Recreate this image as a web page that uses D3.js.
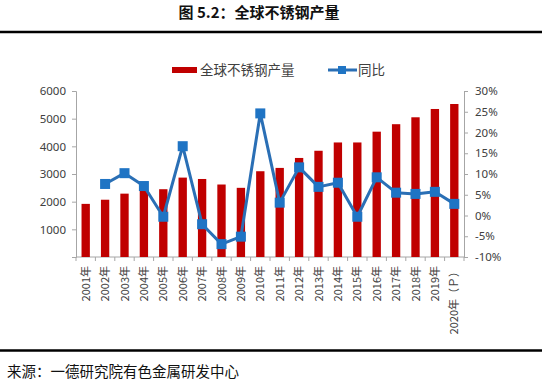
<!DOCTYPE html>
<html><head><meta charset="utf-8">
<script src="https://cdn.jsdelivr.net/npm/d3@7"></script>
<style>
html,body{margin:0;padding:0;background:#fff;}
svg{display:block;}
text{font-family:"Noto Sans","Noto Sans CJK SC",sans-serif;}
</style></head>
<body>
<svg id="c" width="545" height="383"></svg>
<script>
const categories = ["2001年","2002年","2003年","2004年","2005年","2006年","2007年","2008年","2009年","2010年","2011年","2012年","2013年","2014年","2015年","2016年","2017年","2018年","2019年","2020年（Ｐ）"];
const production = [1920,2070,2290,2460,2450,2870,2820,2620,2500,3100,3220,3580,3840,4140,4140,4530,4800,5050,5350,5530];
const yoy = [null,7.6,10.2,7.1,-0.3,16.7,-2.1,-6.9,-5.1,24.6,3.1,11.6,6.9,7.9,-0.3,9.2,5.5,5.2,5.7,2.8];
const leftTicks = [1000,2000,3000,4000,5000,6000];
const rightTicks = [-10,-5,0,5,10,15,20,25,30];
const seriesNames = ["全球不锈钢产量","同比"];
const titleText = "图 5.2：全球不锈钢产量";
const sourceText = "来源：一德研究院有色金属研发中心";

const svg = d3.select("#c");
const L = 76, R = 464, T = 91, B = 257;
const x = d3.scaleBand().domain(categories).range([L, R]).padding(0);
const yL = d3.scaleLinear().domain([0, 6000]).range([B, T]);
const yR = d3.scaleLinear().domain([-10, 30]).range([B, T]);
const barW = x.step() * 0.43;
const red = "#c00000", lineC = "#2a6fb5", markC = "#1f74c4", axisC = "#a6a6a6", txtC = "#404040";

// title and rules
svg.append("text").attr("x", 259).attr("y", 18).attr("text-anchor", "middle")
  .attr("font-size", 15).attr("font-weight", 700).attr("fill", "#111")
  .style("font-family", '"Noto Sans CJK SC",sans-serif').text(titleText);
svg.append("line").attr("x1", 0).attr("x2", 542).attr("y1", 32).attr("y2", 32).attr("stroke", "#000").attr("stroke-width", 2.6);
svg.append("line").attr("x1", 0).attr("x2", 542).attr("y1", 350.5).attr("y2", 350.5).attr("stroke", "#000").attr("stroke-width", 2.6);
svg.append("text").attr("x", 7).attr("y", 377).attr("font-size", 14.5).attr("fill", "#111")
  .style("font-family", '"Noto Sans CJK SC",sans-serif').text(sourceText);

// axes
const gL = svg.append("g").attr("transform", `translate(${L},0)`)
  .call(d3.axisLeft(yL).tickValues([0].concat(leftTicks)).tickSize(4).tickPadding(6).tickFormat(d => d === 0 ? "" : d));
const gR = svg.append("g").attr("transform", `translate(${R},0)`)
  .call(d3.axisRight(yR).tickValues(rightTicks).tickSize(4).tickPadding(7).tickFormat(d => d + "%"));
[gL, gR].forEach(g => {
  g.select(".domain").attr("stroke", axisC);
  g.selectAll(".tick line").attr("stroke", axisC);
  g.selectAll(".tick text").attr("fill", txtC).attr("font-size", 11.5);
});

// x axis line + boundary ticks
svg.append("line").attr("x1", L).attr("x2", R).attr("y1", B).attr("y2", B).attr("stroke", axisC);
const bounds = categories.map(c => x(c)).concat([x(categories[categories.length - 1]) + x.step()]);
svg.append("g").selectAll("line").data(bounds).join("line")
  .attr("x1", d => d).attr("x2", d => d).attr("y1", B).attr("y2", B + 4).attr("stroke", axisC);

// bars
svg.append("g").selectAll("rect").data(production).join("rect")
  .attr("x", (d, i) => x(categories[i]) + (x.step() - barW) / 2)
  .attr("width", barW)
  .attr("y", d => yL(d)).attr("height", d => B - yL(d)).attr("fill", red);

// x labels
svg.append("g").selectAll("text").data(categories).join("text")
  .attr("transform", d => `translate(${x(d) + x.step() / 2 + 4},${B + 9}) rotate(-90)`)
  .attr("text-anchor", "end").attr("font-size", 11).attr("fill", txtC)
  .style("font-family", '"Noto Sans CJK SC",sans-serif').text(d => d);

// line
const pts = yoy.map((v, i) => ({ c: categories[i], v })).filter(d => d.v !== null);
svg.append("path").datum(pts)
  .attr("d", d3.line().x(d => x(d.c) + x.step() / 2).y(d => yR(d.v)))
  .attr("fill", "none").attr("stroke", lineC).attr("stroke-width", 3).attr("stroke-linejoin", "round");
const ms = 10;
svg.append("g").selectAll("rect").data(pts).join("rect")
  .attr("x", d => x(d.c) + x.step() / 2 - ms / 2).attr("y", d => yR(d.v) - ms / 2)
  .attr("width", ms).attr("height", ms).attr("fill", markC);

// legend
const lg = svg.append("g").style("font-family", '"Noto Sans CJK SC",sans-serif');
lg.append("rect").attr("x", 172).attr("y", 67).attr("width", 25).attr("height", 6).attr("fill", red);
lg.append("text").attr("x", 200).attr("y", 74.5).attr("font-size", 13.5).attr("fill", txtC).text(seriesNames[0]);
lg.append("line").attr("x1", 328).attr("x2", 357).attr("y1", 70).attr("y2", 70).attr("stroke", lineC).attr("stroke-width", 3);
lg.append("rect").attr("x", 338).attr("y", 66).attr("width", 8).attr("height", 8).attr("fill", markC);
lg.append("text").attr("x", 358).attr("y", 74.5).attr("font-size", 13.5).attr("fill", txtC).text(seriesNames[1]);
</script>
</body></html>
